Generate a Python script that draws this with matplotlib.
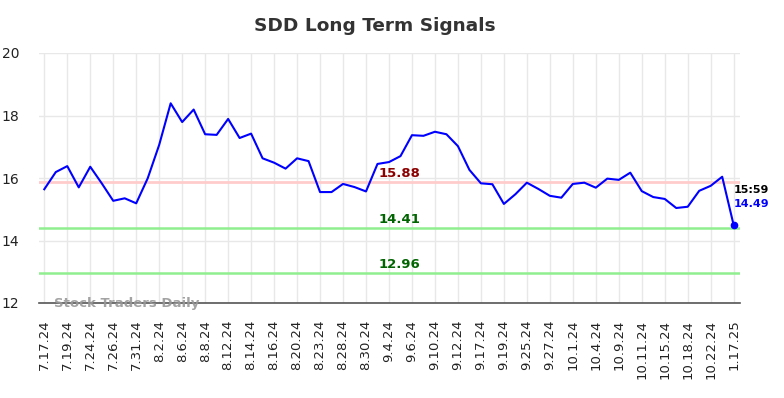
import matplotlib
matplotlib.use("Agg")
import matplotlib.pyplot as plt

title = "SDD Long Term Signals"
tick_labels = ["7.17.24", "7.19.24", "7.24.24", "7.26.24", "7.31.24", "8.2.24", "8.6.24", "8.8.24",
               "8.12.24", "8.14.24", "8.16.24", "8.20.24", "8.23.24", "8.28.24", "8.30.24", "9.4.24",
               "9.6.24", "9.10.24", "9.12.24", "9.17.24", "9.19.24", "9.25.24", "9.27.24", "10.1.24",
               "10.4.24", "10.9.24", "10.11.24", "10.15.24", "10.18.24", "10.22.24", "1.17.25"]
prices = [15.64, 16.19, 16.38, 15.70, 16.36, 15.83, 15.27, 15.35, 15.19, 15.99,
          17.06, 18.39, 17.79, 18.19, 17.40, 17.38, 17.89, 17.28, 17.42, 16.63,
          16.49, 16.30, 16.63, 16.54, 15.55, 15.55, 15.81, 15.71, 15.57, 16.45,
          16.51, 16.70, 17.37, 17.35, 17.48, 17.40, 17.02, 16.26, 15.83, 15.80,
          15.17, 15.48, 15.85, 15.65, 15.43, 15.37, 15.81, 15.85, 15.69, 15.98,
          15.94, 16.17, 15.58, 15.39, 15.33, 15.04, 15.08, 15.59, 15.75, 16.04,
          14.49]
red_level = 15.88
green_levels = [14.41, 12.96]
last_time = "15:59"

fig = plt.figure(figsize=(7.84, 3.98), dpi=100)
ax = fig.add_axes([39/784, 1-303/398, (740-39)/784, (303-53)/398])

x = list(range(len(prices)))
ax.set_xlim(-0.46, len(prices) - 1 + 0.55)
ax.set_ylim(12, 20)
ax.set_yticks([12, 14, 16, 18, 20])
tick_pos = list(range(0, len(prices), 2))
ax.set_xticks(tick_pos)
ax.set_xticklabels(tick_labels, rotation=90, fontsize=9.5, color="#222222")
ax.tick_params(axis="y", labelsize=10, colors="#222222", length=0, pad=14)
ax.tick_params(axis="x", length=0, pad=12)
ax.grid(True, color="#e8e8e8", linewidth=1)
ax.set_axisbelow(True)
for s in ["top", "right", "left"]:
    ax.spines[s].set_visible(False)
ax.spines["bottom"].set_color("#555555")
ax.spines["bottom"].set_linewidth(1.2)

ax.axhline(red_level, color="#ffcccc", linewidth=2, zorder=1)
for g in green_levels:
    ax.axhline(g, color="#90ee90", linewidth=1.8, zorder=1)

ax.plot(x, prices, color="blue", linewidth=1.5, zorder=3)
ax.plot(x[-1], prices[-1], "o", color="blue", markersize=4.5, zorder=4)

lx = 30.9
ax.text(lx, red_level + 0.05, f"{red_level:.2f}", color="#8b0000", fontsize=9.5,
        fontweight="bold", ha="center", va="bottom")
for g in green_levels:
    ax.text(lx, g + 0.05, f"{g:.2f}", color="#006400", fontsize=9.5,
            fontweight="bold", ha="center", va="bottom")

ax.annotate(last_time, (x[-1], prices[-1]), xytext=(0, 22), textcoords="offset points",
            fontsize=8, fontweight="bold", color="black", ha="left", va="bottom", annotation_clip=False)
ax.annotate(f"{prices[-1]:.2f}", (x[-1], prices[-1]), xytext=(0, 12), textcoords="offset points",
            fontsize=8, fontweight="bold", color="blue", ha="left", va="bottom", annotation_clip=False)

ax.text(0.021, 0.0, "Stock Traders Daily", transform=ax.transAxes, fontsize=9.5,
        fontweight="bold", color="#999999", alpha=0.9, ha="left", va="center")

fig.suptitle(title, x=375/784, y=1-26/398, va="center", fontsize=13.3, fontweight="bold", color="#333333")

fig.savefig("out.png", dpi=100)
